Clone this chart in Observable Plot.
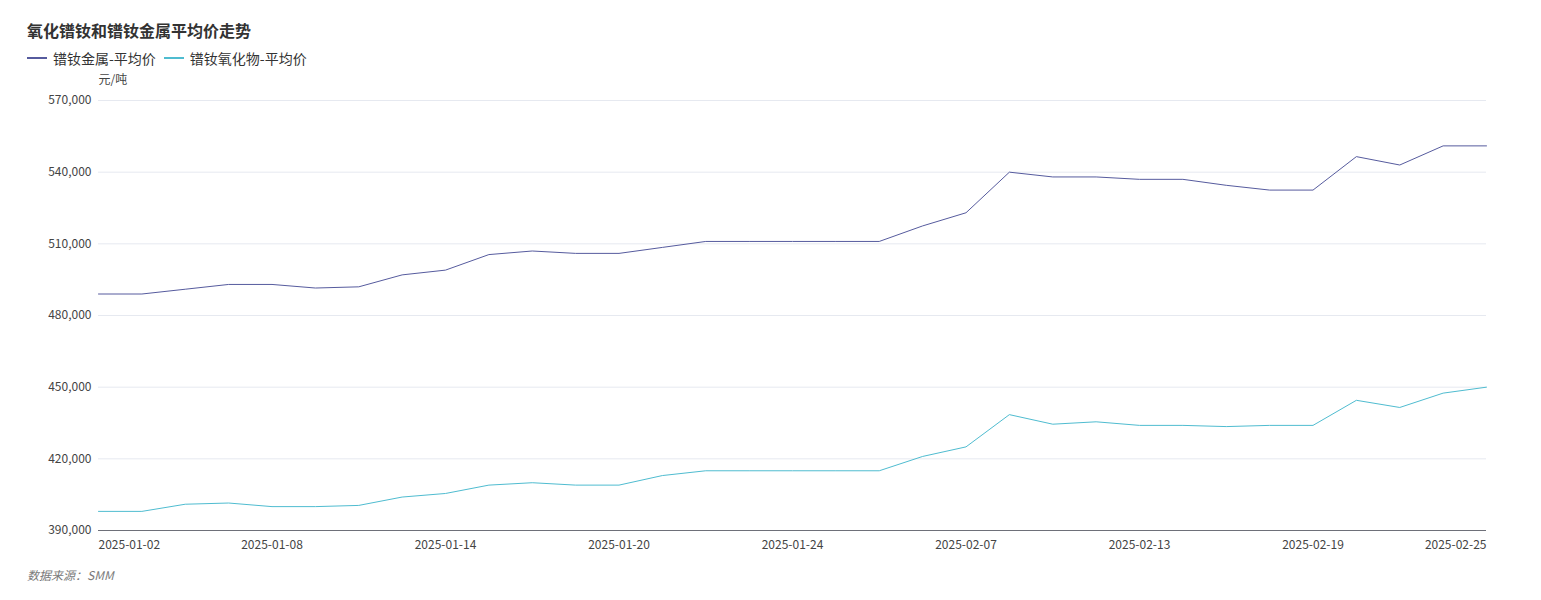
<!DOCTYPE html>
<html><head><meta charset="utf-8">
<script src="https://cdn.jsdelivr.net/npm/d3@7"></script>
<script src="https://cdn.jsdelivr.net/npm/@observablehq/plot@0.6"></script>
<style>
body{margin:0;background:#fff;font-family:"Noto Sans CJK SC","Noto Sans",sans-serif;}
#wrap{position:relative;width:1541px;height:600px;overflow:hidden;}
#title{position:absolute;left:27px;top:19px;font-size:16px;font-weight:bold;color:#333;line-height:22px;}
#legend{position:absolute;left:27px;top:48px;font-size:14px;color:#333;display:flex;line-height:20px;}
.item{display:flex;align-items:center;margin-right:8px;}
.sw{width:20px;height:2px;margin-right:6px;}
#chart{position:absolute;left:0;top:70px;}
#src{position:absolute;left:27px;top:567px;font-size:12px;font-style:italic;color:#7a7a7a;line-height:16px;}
</style></head>
<body>
<div id="wrap">
  <div id="title"></div>
  <div id="legend"></div>
  <div id="chart"></div>
  <div id="src"></div>
</div>
<script>
const titleText = "氧化镨钕和镨钕金属平均价走势";
const sourceText = "数据来源：SMM";
const unitText = "元/吨";
const seriesNames = ["镨钕金属-平均价", "镨钕氧化物-平均价"];
const seriesColors = ["#565b9e", "#4fbcd0"];
const dates = ["2025-01-02","2025-01-03","2025-01-06","2025-01-07","2025-01-08","2025-01-09","2025-01-10","2025-01-13","2025-01-14","2025-01-15","2025-01-16","2025-01-17","2025-01-20","2025-01-21","2025-01-22","2025-01-23","2025-01-24","2025-01-27","2025-02-05","2025-02-06","2025-02-07","2025-02-10","2025-02-11","2025-02-12","2025-02-13","2025-02-14","2025-02-17","2025-02-18","2025-02-19","2025-02-20","2025-02-21","2025-02-24","2025-02-25"];
const metalPrices = [489000,489000,491000,493000,493000,491500,492000,497000,499000,505500,507000,506000,506000,508500,511000,511000,511000,511000,511000,517500,523000,540000,538000,538000,537000,537000,534500,532500,532500,546500,543000,551000,551000];
const oxidePrices = [398000,398000,401000,401500,400000,400000,400500,404000,405500,409000,410000,409000,409000,413000,415000,415000,415000,415000,415000,421000,425000,438500,434500,435500,434000,434000,433500,434000,434000,444500,441500,447500,450000];
const yTicks = [390000,420000,450000,480000,510000,540000,570000];
const xTickDates = ["2025-01-02","2025-01-08","2025-01-14","2025-01-20","2025-01-24","2025-02-07","2025-02-13","2025-02-19","2025-02-25"];

document.getElementById("title").textContent = titleText;
document.getElementById("src").textContent = sourceText;
const legend = document.getElementById("legend");
seriesNames.forEach((n, i) => {
  const it = document.createElement("div"); it.className = "item";
  const sw = document.createElement("div"); sw.className = "sw"; sw.style.background = seriesColors[i];
  const tx = document.createElement("span"); tx.textContent = n;
  it.appendChild(sw); it.appendChild(tx); legend.appendChild(it);
});

const data = [];
dates.forEach((d, i) => {
  data.push({date: d, value: metalPrices[i], series: seriesNames[0]});
  data.push({date: d, value: oxidePrices[i], series: seriesNames[1]});
});
const midTicks = xTickDates.slice(1, -1);
const fontFamily = '"Noto Sans CJK SC","Noto Sans",sans-serif';

const chart = Plot.plot({
  width: 1541, height: 500,
  marginTop: 30, marginBottom: 40, marginLeft: 98, marginRight: 55,
  style: {fontFamily, fontSize: "12px", color: "#333", background: "transparent"},
  x: {type: "point", domain: dates, padding: 0, round: false},
  y: {domain: [390000, 570000]},
  color: {domain: seriesNames, range: seriesColors},
  marks: [
    Plot.gridY(yTicks, {stroke: "#e6e9f0", strokeOpacity: 1}),
    Plot.axisY(yTicks, {tickSize: 0, tickPadding: 7, tickFormat: d3.format(","), label: null, fill: "#444"}),
    Plot.axisX([xTickDates[0]], {tickSize: 0, tickPadding: 10, textAnchor: "start", label: null, fill: "#444"}),
    Plot.axisX(midTicks, {tickSize: 0, tickPadding: 10, label: null, fill: "#444"}),
    Plot.axisX([xTickDates[xTickDates.length - 1]], {tickSize: 0, tickPadding: 10, textAnchor: "end", label: null, fill: "#444"}),
    Plot.ruleY([390000], {stroke: "#6e7079", strokeWidth: 1}),
    Plot.lineY(data, {x: "date", y: "value", z: "series", stroke: "series", strokeWidth: 1}),
    Plot.text([unitText], {frameAnchor: "top-left", dy: -20, textAnchor: "start", lineAnchor: "middle", fill: "#444", fontSize: 12})
  ]
});
document.getElementById("chart").appendChild(chart);
</script>
</body></html>
